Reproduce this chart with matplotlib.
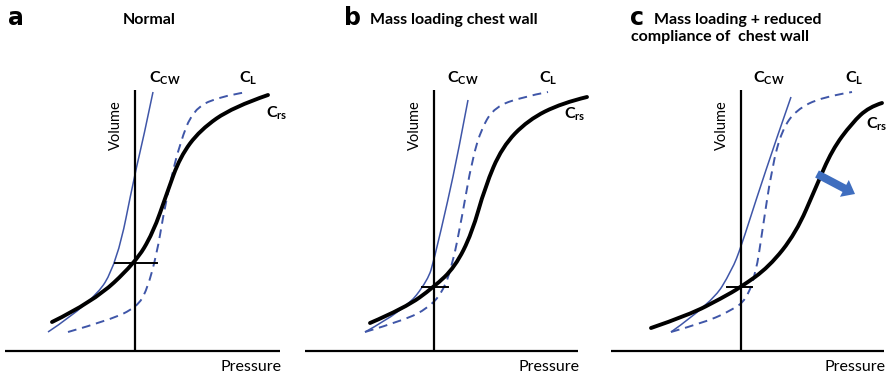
import numpy as np
import matplotlib
matplotlib.use("Agg")
import matplotlib.pyplot as plt
from matplotlib.path import Path
from matplotlib.patches import PathPatch, FancyArrow

plt.rcParams['font.family'] = ['Lato', 'DejaVu Sans']
plt.rcParams['mathtext.fontset'] = 'custom'
plt.rcParams['mathtext.rm'] = 'Lato:bold'

# curves: pressure (relative to volume axis), volume (above pressure axis)
# panel a - normal
a_rs_p = [-83, -42, 0, 18, 32, 45, 65, 98, 133]
a_rs_v = [29, 49, 88, 118, 158, 194, 221, 244, 256]
a_l_p = [-67, -25, 2, 12, 22, 28, 35, 45, 58, 82, 112]
a_l_v = [19, 31, 44, 61, 98, 134, 168, 208, 241, 254, 259]
a_cw_p = [-87, -42, -18, 0, 8, 18]
a_cw_v = [19, 49, 88, 178, 211, 259]

# panel b - mass loading chest wall
b_rs_p = [-64, -29, 0, 21, 38, 51, 68, 94, 128, 153]
b_rs_v = [28, 43, 64, 84, 118, 164, 204, 231, 248, 254]
b_l_p = [-69, -29, -6, 8, 18, 28, 38, 48, 61, 88, 114]
b_l_v = [19, 31, 43, 58, 84, 134, 191, 224, 244, 254, 259]
b_cw_p = [-69, -29, -6, 0, 14, 24, 34]
b_cw_v = [19, 41, 71, 91, 151, 198, 251]

# panel c - mass loading + reduced compliance
c_rs_p = [-90, -52, -19, 0, 28, 55, 75, 91, 111, 128, 141]
c_rs_v = [23, 36, 53, 64, 84, 118, 164, 201, 228, 244, 248]
c_l_p = [-70, -35, -9, 5, 15, 21, 31, 41, 55, 81, 111]
c_l_v = [19, 29, 41, 51, 78, 118, 184, 221, 241, 254, 259]
c_cw_p = [-70, -29, -9, 0, 15, 35, 50]
c_cw_v = [19, 48, 81, 104, 151, 211, 254]

# resting point (FRC) volume on each panel
frc_v = [88, 64, 64]

letters = ['a', 'b', 'c']
titles = ['Normal', 'Mass loading chest wall', 'Mass loading + reduced', 'compliance of  chest wall']

blue = '#3f56a8'
W, H = 889, 377


def smooth(ax, p, v, **kw):
    pts = np.column_stack([p, v]).astype(float)
    verts = [pts[0]]
    codes = [Path.MOVETO]
    for i in range(1, len(pts) - 1):
        mid = (pts[i] + pts[i + 1]) / 2 if i < len(pts) - 2 else pts[i + 1]
        verts += [pts[i], mid]
        codes += [Path.CURVE3, Path.CURVE3]
    if len(pts) == 2:
        verts.append(pts[1]); codes.append(Path.LINETO)
    ax.add_patch(PathPatch(Path(verts, codes), fill=False, clip_on=False, **kw))


fig = plt.figure(figsize=(W / 100, H / 100), dpi=100)

panels = [
    # left px, right px, origin x px, origin y px, axis extents, tick extents, data
    dict(l=0, r=296, ox=135, oy=351, px=(-130, 145), tk=(-20, 22),
         rs=(a_rs_p, a_rs_v), L=(a_l_p, a_l_v), cw=(a_cw_p, a_cw_v),
         lab_cw=(14, 264), lab_l=(104, 264), lab_rs=(131, 238)),
    dict(l=296, r=590, ox=434, oy=351, px=(-129, 144), tk=(-12, 14),
         rs=(b_rs_p, b_rs_v), L=(b_l_p, b_l_v), cw=(b_cw_p, b_cw_v),
         lab_cw=(13, 264), lab_l=(105, 264), lab_rs=(130, 237)),
    dict(l=590, r=889, ox=741, oy=351, px=(-130, 143), tk=(-14, 11),
         rs=(c_rs_p, c_rs_v), L=(c_l_p, c_l_v), cw=(c_cw_p, c_cw_v),
         lab_cw=(12, 264), lab_l=(104, 264), lab_rs=(125, 227)),
]

for i, pn in enumerate(panels):
    ax = fig.add_axes([pn['l'] / W, 0, (pn['r'] - pn['l']) / W, 1])
    ax.set_xlim(pn['l'] - pn['ox'], pn['r'] - pn['ox'])
    ax.set_ylim(pn['oy'] - H, pn['oy'])
    ax.axis('off')

    # axes of the diagram
    ax.plot(pn['px'], [0, 0], color='black', lw=1.6, solid_capstyle='butt')
    ax.plot([0, 0], [0, 261], color='black', lw=1.6, solid_capstyle='butt')
    ax.plot(pn['tk'], [frc_v[i], frc_v[i]], color='black', lw=1.4)

    smooth(ax, *pn['cw'], edgecolor=blue, lw=1.1)
    smooth(ax, *pn['L'], edgecolor=blue, lw=1.4, linestyle=(0, (4.5, 3)))
    smooth(ax, *pn['rs'], edgecolor='black', lw=2.8, capstyle='round')

    ax.text(-19, 226, 'Volume', rotation=90, ha='center', va='center', fontsize=10.5)
    ax.text(pn['px'][1] + 1, -16, 'Pressure', ha='right', va='center', fontsize=11.5)

    ax.text(*pn['lab_cw'], r'C$_{\mathrm{CW}}$', fontsize=11.5, fontweight='bold', ha='left', va='bottom')
    ax.text(*pn['lab_l'], r'C$_{\mathrm{L}}$', fontsize=11.5, fontweight='bold', ha='left', va='bottom')
    ax.text(*pn['lab_rs'], r'C$_{\mathrm{rs}}$', fontsize=11.5, fontweight='bold', ha='left', va='center')

    if i == 2:
        ax.add_patch(FancyArrow(76, 177, 38, -20, width=8, head_width=19, head_length=12,
                                length_includes_head=True, color='#3f6ebf', lw=0, clip_on=False))

# panel letters and titles
fig.text(8 / W, 1 - 18 / H, letters[0], fontsize=17, fontweight='bold', family='DejaVu Sans', va='center')
fig.text(123 / W, 1 - 20 / H, titles[0], fontsize=11.5, fontweight='bold', va='center')
fig.text(344 / W, 1 - 18 / H, letters[1], fontsize=17, fontweight='bold', family='DejaVu Sans', va='center')
fig.text(370 / W, 1 - 20 / H, titles[1], fontsize=11.5, fontweight='bold', va='center')
fig.text(630 / W, 1 - 18 / H, letters[2], fontsize=17, fontweight='bold', family='DejaVu Sans', va='center')
fig.text(654 / W, 1 - 20 / H, titles[2], fontsize=11.5, fontweight='bold', va='center')
fig.text(631 / W, 1 - 37 / H, titles[3], fontsize=11.5, fontweight='bold', va='center')

fig.savefig('out.png', dpi=100, facecolor='white')
